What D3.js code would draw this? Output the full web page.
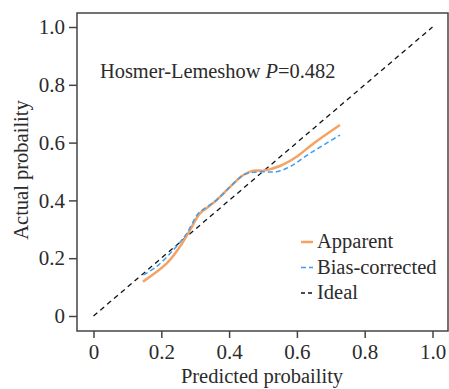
<!doctype html>
<html lang="en">
  <head>
    <meta charset="utf-8">
    <title>Calibration curve</title>
    <style>
      body { margin: 0; background: #fff; }
      text { font-family: "Liberation Serif", "DejaVu Serif", serif; fill: #2b2b2b; }
    </style>
  </head>
  <body>
    <script src="https://d3js.org/d3.v7.min.js"></script>
    <script>
      // values
      var apparentX = [0.146, 0.216, 0.255, 0.285, 0.314, 0.339, 0.363, 0.403, 0.442, 0.471, 0.501, 0.550, 0.599, 0.650, 0.727];
      var apparentY = [0.119, 0.182, 0.240, 0.298, 0.355, 0.378, 0.401, 0.447, 0.488, 0.503, 0.503, 0.519, 0.551, 0.598, 0.661];
      var biasX = [0.147, 0.186, 0.235, 0.275, 0.309, 0.329, 0.363, 0.403, 0.442, 0.470, 0.501, 0.540, 0.580, 0.639, 0.727];
      var biasY = [0.142, 0.171, 0.228, 0.286, 0.355, 0.373, 0.401, 0.447, 0.488, 0.497, 0.499, 0.499, 0.517, 0.563, 0.626];
      var idealX = [0, 1];
      var idealY = [0, 1];
      var xTicks = [0, 0.2, 0.4, 0.6, 0.8, 1.0];
      var yTicks = [0, 0.2, 0.4, 0.6, 0.8, 1.0];
      var legendLabels = ['Apparent', 'Bias-corrected', 'Ideal'];

      var width = 449, height = 389;
      var frame = { left: 77, top: 13, right: 448, bottom: 331 };

      var x = d3.scaleLinear().domain([0, 1]).range([93.5, 432.5]);
      var y = d3.scaleLinear().domain([0, 1]).range([316, 27]);

      var fmt = function(d) { return d === 0 ? '0' : d3.format('.1f')(d); };

      var svg = d3.select('body').append('svg')
          .attr('width', width)
          .attr('height', height);

      // frame box
      svg.append('rect')
          .attr('x', frame.left)
          .attr('y', frame.top)
          .attr('width', frame.right - frame.left)
          .attr('height', frame.bottom - frame.top)
          .attr('fill', 'none')
          .attr('stroke', '#444')
          .attr('stroke-width', 1.5);

      // axes
      var xAxis = svg.append('g')
          .attr('transform', 'translate(0,' + frame.bottom + ')')
          .call(d3.axisBottom(x).tickValues(xTicks).tickFormat(fmt).tickSize(7).tickPadding(6));
      var yAxis = svg.append('g')
          .attr('transform', 'translate(' + frame.left + ',0)')
          .call(d3.axisLeft(y).tickValues(yTicks).tickFormat(fmt).tickSize(8).tickPadding(4));

      [xAxis, yAxis].forEach(function(a) {
        a.select('.domain').remove();
        a.selectAll('line').attr('stroke', '#444').attr('stroke-width', 1.5);
        a.selectAll('text')
            .style('font-family', '"Liberation Serif", serif')
            .style('font-size', '21px')
            .attr('fill', '#2b2b2b');
      });

      // axis titles
      svg.append('text')
          .attr('x', 262)
          .attr('y', 383)
          .attr('text-anchor', 'middle')
          .style('font-size', '20.5px')
          .text('Predicted probaility');

      svg.append('text')
          .attr('transform', 'translate(28,170) rotate(-90)')
          .attr('text-anchor', 'middle')
          .style('font-size', '20.5px')
          .text('Actual probaility');

      var line = d3.line()
          .x(function(d) { return x(d[0]); })
          .y(function(d) { return y(d[1]); });
      var smooth = d3.line()
          .x(function(d) { return x(d[0]); })
          .y(function(d) { return y(d[1]); })
          .curve(d3.curveCatmullRom.alpha(0.5));

      // ideal diagonal
      svg.append('path')
          .datum(d3.zip(idealX, idealY))
          .attr('d', line)
          .attr('fill', 'none')
          .attr('stroke', '#111')
          .attr('stroke-width', 1.3)
          .attr('stroke-dasharray', '5,4');

      // apparent
      svg.append('path')
          .datum(d3.zip(apparentX, apparentY))
          .attr('d', smooth)
          .attr('fill', 'none')
          .attr('stroke', '#f5a262')
          .attr('stroke-width', 2.5);

      // bias-corrected
      svg.append('path')
          .datum(d3.zip(biasX, biasY))
          .attr('d', smooth)
          .attr('fill', 'none')
          .attr('stroke', '#3d9df2')
          .attr('stroke-width', 1.5)
          .attr('stroke-dasharray', '5,3');

      // annotation
      var ann = svg.append('text')
          .attr('x', 100)
          .attr('y', 78)
          .style('font-size', '20.4px');
      ann.append('tspan').text('Hosmer-Lemeshow ');
      ann.append('tspan').style('font-style', 'italic').text('P');
      ann.append('tspan').text('=0.482');

      // legend
      var legendStyles = [
        { color: '#f5a262', dash: null, w: 2.5 },
        { color: '#3d9df2', dash: '5,3', w: 1.5 },
        { color: '#111', dash: '4,3', w: 1.3 }
      ];
      var legend = svg.append('g');
      legendLabels.forEach(function(label, i) {
        var cy = 242 + i * 25.5;
        legend.append('line')
            .attr('x1', 301).attr('x2', 313)
            .attr('y1', cy).attr('y2', cy)
            .attr('stroke', legendStyles[i].color)
            .attr('stroke-width', legendStyles[i].w)
            .attr('stroke-dasharray', legendStyles[i].dash);
        legend.append('text')
            .attr('x', 317)
            .attr('y', cy + 6)
            .style('font-size', '20.5px')
            .text(label);
      });
    </script>
  </body>
</html>
